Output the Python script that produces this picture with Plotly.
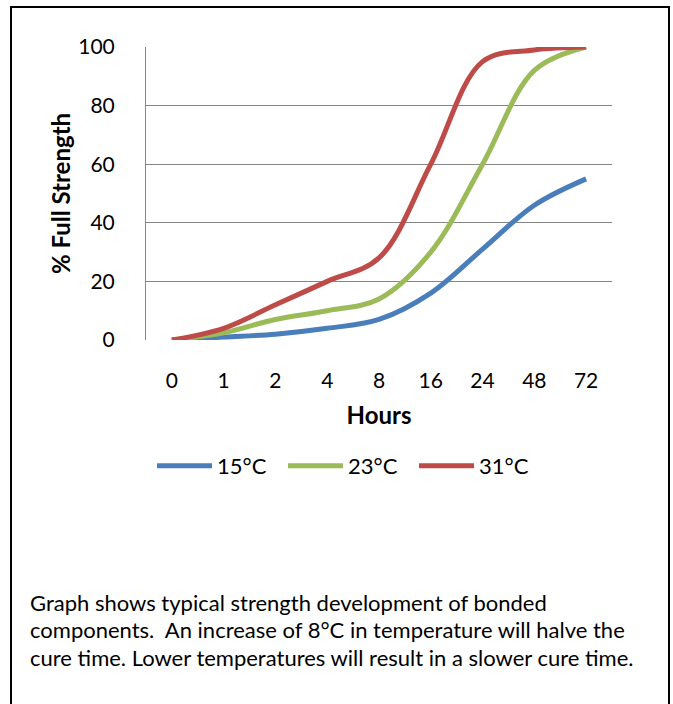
import plotly.graph_objects as go

hours = ["0", "1", "2", "4", "8", "16", "24", "48", "72"]
s15 = [0, 1, 2, 4, 7, 16, 31, 46, 55]
s23 = [0, 2.5, 7, 10, 14, 30, 60, 92, 100]
s31 = [0, 4, 12, 20, 28, 60, 95, 99, 100]
series_names = ["15°C", "23°C", "31°C"]
colors = ["#4a7ebb", "#9bbb59", "#be4b48"]
caption = [
    "Graph shows typical strength development of bonded",
    "components.  An increase of 8°C in temperature will halve the",
    "cure time. Lower temperatures will result in a slower cure time.",
]

FONT = "Lato"
W, H = 673, 704
L, R, T, B = 146, 612, 47, 340

fig = go.Figure()
for name, ys, c in zip(series_names, [s15, s23, s31], colors):
    fig.add_trace(go.Scatter(
        x=hours, y=ys, name=name, mode="lines",
        line=dict(color=c, width=5, shape="spline", smoothing=1),
    ))

def px2x(px):
    return (px - L) / (R - L)

def px2y(py):
    return (B - py) / (B - T)

# outer border
fig.add_shape(type="rect", xref="paper", yref="paper",
              x0=px2x(11), x1=px2x(669), y0=px2y(712), y1=px2y(7),
              line=dict(color="black", width=2), layer="below")

for i, line in enumerate(caption):
    fig.add_annotation(text=line, xref="paper", yref="paper",
                       x=px2x(28), y=px2y(602 + 27.5 * i),
                       xanchor="left", yanchor="middle", showarrow=False,
                       font=dict(family=FONT, size=22, color="black"))

fig.update_layout(
    width=W, height=H,
    margin=dict(l=L, r=W - R, t=T, b=H - B, pad=0),
    paper_bgcolor="white", plot_bgcolor="white",
    font=dict(family=FONT, size=21, color="black"),
    showlegend=True,
    legend=dict(orientation="h", x=px2x(152), xanchor="left",
                y=px2y(466), yanchor="middle",
                font=dict(family=FONT, size=22, color="black"),
                itemwidth=55, entrywidth=61, entrywidthmode="pixels",
                bgcolor="rgba(0,0,0,0)"),
    xaxis=dict(
        type="category", range=[-0.5, 8.5],
        showgrid=False, showline=False, zeroline=False,
        ticks="", ticklabelstandoff=26,
        tickfont=dict(family=FONT, size=21),
        title=dict(text="<b>Hours</b>", standoff=16,
                   font=dict(family=FONT, size=24)),
    ),
    yaxis=dict(
        range=[0, 100], tickvals=[0, 20, 40, 60, 80, 100],
        showgrid=True, gridcolor="#868686", gridwidth=1,
        showline=True, linecolor="#868686", linewidth=1,
        zeroline=False, ticks="", ticklabelstandoff=26,
        tickfont=dict(family=FONT, size=21),
        title=dict(text="<b>% Full Strength</b>", standoff=0,
                   font=dict(family=FONT, size=24)),
    ),
)

fig.write_html("out.html", config={"displayModeBar": False},
               post_script="document.body.style.margin='0';")
